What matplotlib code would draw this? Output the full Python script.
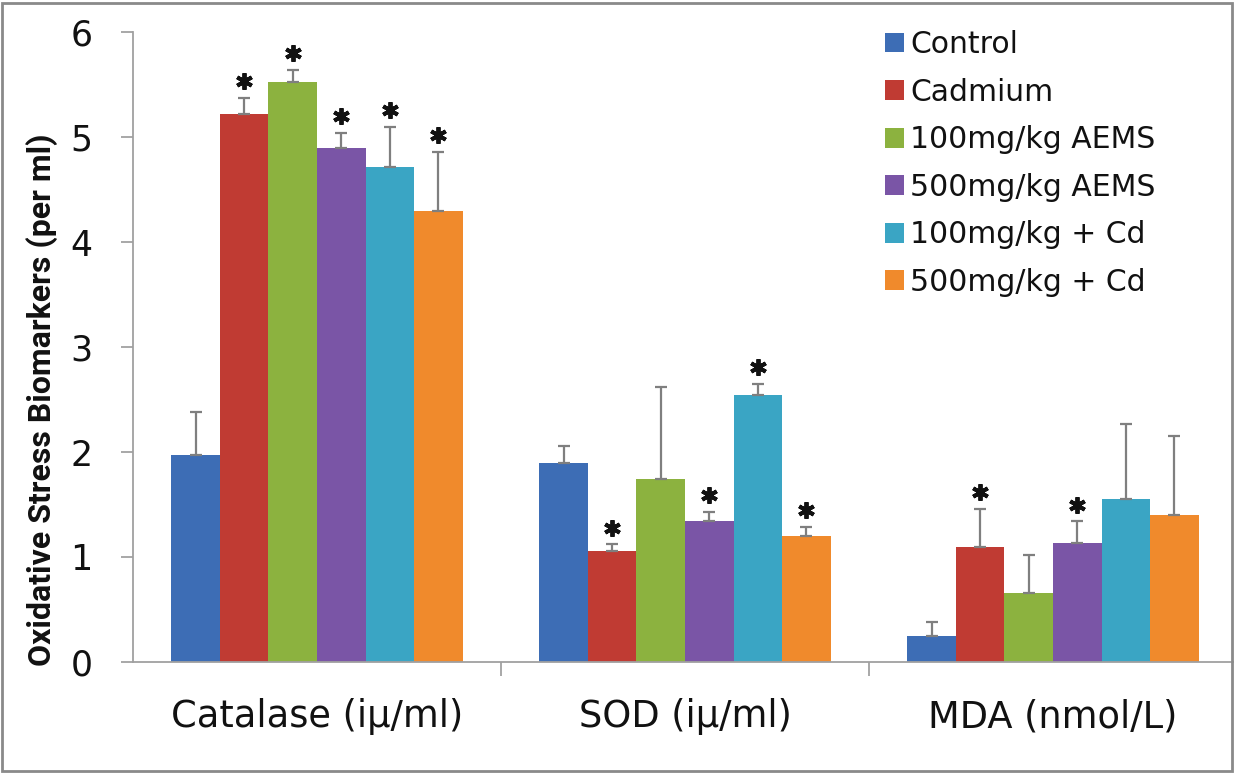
import matplotlib
matplotlib.use("Agg")
import matplotlib.pyplot as plt
from matplotlib.patches import Patch, Rectangle
import numpy as np

categories = ["Catalase (iμ/ml)", "SOD (iμ/ml)", "MDA (nmol/L)"]
series = ["Control", "Cadmium", "100mg/kg AEMS", "500mg/kg AEMS",
          "100mg/kg + Cd", "500mg/kg + Cd"]
colors = ["#3d6db5", "#c03b33", "#8cb23f", "#7a55a6", "#3aa5c4", "#f08a2c"]

control = [1.97, 1.90, 0.25]
cadmium = [5.22, 1.06, 1.10]
aems100 = [5.52, 1.74, 0.66]
aems500 = [4.90, 1.34, 1.13]
cd100 = [4.71, 2.54, 1.55]
cd500 = [4.30, 1.20, 1.40]

control_err = [0.41, 0.16, 0.13]
cadmium_err = [0.15, 0.06, 0.36]
aems100_err = [0.12, 0.88, 0.36]
aems500_err = [0.14, 0.09, 0.21]
cd100_err = [0.39, 0.11, 0.72]
cd500_err = [0.56, 0.09, 0.75]

control_sig = [False, False, False]
cadmium_sig = [True, True, True]
aems100_sig = [True, False, False]
aems500_sig = [True, True, True]
cd100_sig = [True, True, False]
cd500_sig = [True, True, False]

values = [control, cadmium, aems100, aems500, cd100, cd500]
errors = [control_err, cadmium_err, aems100_err, aems500_err, cd100_err, cd500_err]
sigs = [control_sig, cadmium_sig, aems100_sig, aems500_sig, cd100_sig, cd500_sig]

W, H = 1234, 776
fig = plt.figure(figsize=(W / 100, H / 100), dpi=100)
ax = fig.add_axes([133 / W, 114 / H, 1104 / W, 630 / H])

x = np.arange(len(categories))
bw = 0.132
n = len(series)
for i, (vals, errs, sg) in enumerate(zip(values, errors, sigs)):
    pos = x + (i - (n - 1) / 2) * bw
    ax.bar(pos, vals, width=bw, color=colors[i], edgecolor="none", zorder=2)
    ax.errorbar(pos, vals, yerr=[np.zeros(len(vals)), errs], fmt="none",
                ecolor="#7f7f7f", elinewidth=1.6, capsize=4.5, capthick=1.6,
                zorder=3)
    for p, v, e, s in zip(pos, vals, errs, sg):
        if s:
            ax.plot(p, v + e + 0.16, marker=(6, 2, 0), ms=12, mew=2.8,
                    color="#111111", zorder=4)

ax.set_xlim(-0.5, len(categories) - 0.5)
ax.set_ylim(0, 6)
ax.set_yticks(range(0, 7))
ax.tick_params(axis="y", direction="out", length=9, width=1.2, color="#9a9a9a",
               labelsize=25, pad=20, labelcolor="#111111")
ax.set_xticks(x[:-1] + 0.5)
ax.set_xticklabels([])
ax.tick_params(axis="x", which="major", direction="out", length=10, width=1.2,
               color="#9a9a9a")
ax.set_xticks(x, minor=True)
ax.set_xticklabels(categories, minor=True, fontsize=26.5, family="DejaVu Sans",
                   color="#111111")
ax.tick_params(axis="x", which="minor", length=0, pad=26)

for s in ["top", "right"]:
    ax.spines[s].set_visible(False)
for s in ["left", "bottom"]:
    ax.spines[s].set_color("#a0a0a0")
    ax.spines[s].set_linewidth(1.3)

ax.set_ylabel("Oxidative Stress Biomarkers (per ml)", fontsize=23,
              fontweight="bold", family="Roboto", color="#111111")
ax.yaxis.set_label_coords((58 - 133) / 1104, (662 - 400) / 630)

handles = [Patch(facecolor=c, edgecolor="none") for c in colors]
leg = fig.legend(handles, series, loc="upper left",
                 bbox_to_anchor=(885 / W, 1 - 30 / H), frameon=False,
                 fontsize=21.5, handlelength=0.65, handleheight=0.65,
                 handletextpad=0.2, labelspacing=0.62, borderpad=0,
                 borderaxespad=0)
for t in leg.get_texts():
    t.set_color("#111111")

fig.patches.append(Rectangle((0.002, 0.006), 0.996, 0.99, transform=fig.transFigure,
                             fill=False, edgecolor="#8a8a8a", linewidth=2))

fig.savefig("out.png", dpi=100)
